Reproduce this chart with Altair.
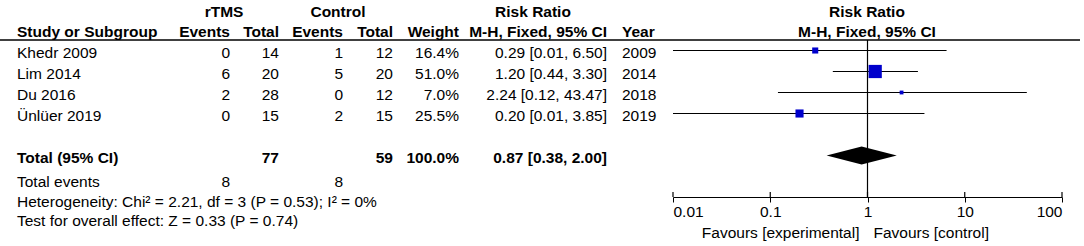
import altair as alt
import pandas as pd

# ---------------- data ----------------
studies = ["Khedr 2009", "Lim 2014", "Du 2016", "Ünlüer 2019"]
years = ["2009", "2014", "2018", "2019"]
rtms_events = [0, 6, 2, 0]
rtms_total = [14, 20, 28, 15]
ctrl_events = [1, 5, 0, 2]
ctrl_total = [12, 20, 12, 15]
weights = [16.4, 51.0, 7.0, 25.5]
rr = [0.29, 1.20, 2.24, 0.20]
ci_low = [0.01, 0.44, 0.12, 0.01]
ci_high = [6.50, 3.30, 43.47, 3.85]

total_label = "Total (95% CI)"
total_rtms = [77]
total_ctrl = [59]
total_weight = [100.0]
total_rr = [0.87]
total_low = [0.38]
total_high = [2.00]
events_label = "Total events"
events_rtms = [8]
events_ctrl = [8]
heterogeneity = "Heterogeneity: Chi² = 2.21, df = 3 (P = 0.53); I² = 0%"
overall = "Test for overall effect: Z = 0.33 (P = 0.74)"
axis_ticks = [0.01, 0.1, 1, 10, 100]
favours_left = "Favours [experimental]"
favours_right = "Favours [control]"

# ---------------- style / layout ----------------
FONT = "Liberation Sans"
FS = 15.5
TXT = "#000000"
BLUE = "#0000CC"
TOTAL_ROW = 5
DIAMOND_HALF = 9 / 21  # half-height of diamond in row units

df = pd.DataFrame({
    "study": studies, "year": years,
    "et": rtms_events, "tt": rtms_total, "ec": ctrl_events, "tc": ctrl_total,
    "w": weights, "rr": rr, "lo": ci_low, "hi": ci_high,
})
df["row"] = list(range(len(df)))
df["w_txt"] = [f"{w:.1f}%" for w in weights]
df["rr_txt"] = [f"{r:.2f} [{l:.2f}, {h:.2f}]" for r, l, h in zip(rr, ci_low, ci_high)]

df_tot = pd.DataFrame({
    "row": [TOTAL_ROW], "label": [total_label],
    "tt": total_rtms, "tc": total_ctrl,
    "w_txt": [f"{w:.1f}%" for w in total_weight],
    "rr_txt": [f"{r:.2f} [{l:.2f}, {h:.2f}]" for r, l, h in zip(total_rr, total_low, total_high)],
})

df_dia = pd.DataFrame({
    "x": [total_low[0], total_rr[0], total_high[0]],
    "ya": [TOTAL_ROW, TOTAL_ROW - DIAMOND_HALF, TOTAL_ROW],
    "yb": [TOTAL_ROW, TOTAL_ROW + DIAMOND_HALF, TOTAL_ROW],
})

df_ticks = pd.DataFrame({"t": axis_ticks})
df_one = pd.DataFrame({"v": [1]})

yscale = alt.Scale(domain=[0, TOTAL_ROW], range=[50.5, 155.5])
xscale = alt.Scale(type="log", domain=[0.01, 100], range=[673, 1062])
xaxis = alt.Axis(values=axis_ticks, format="~g", title=None, grid=False,
                 tickSize=5, tickColor="black", domainColor="black",
                 labelFlush=True, labelFont=FONT, labelFontSize=FS,
                 labelColor=TXT, labelPadding=2)


def col(data, field, x, align="right", bold=False):
    return alt.Chart(data).mark_text(
        align=align, baseline="middle", dy=2, font=FONT, fontSize=FS,
        fontWeight="bold" if bold else "normal", color=TXT,
    ).encode(
        x=alt.value(x),
        y=alt.Y("row:Q", scale=yscale, axis=None),
        text=alt.Text(f"{field}:N"),
    )


def const_text(txt, x, y, align="left", bold=False):
    return alt.Chart(pd.DataFrame({"t": [txt]})).mark_text(
        align=align, baseline="middle", font=FONT, fontSize=FS,
        fontWeight="bold" if bold else "normal", color=TXT,
    ).encode(x=alt.value(x), y=alt.value(y), text="t:N")


layers = []

# headers
layers += [
    const_text("rTMS", 224, 12, "center", True),
    const_text("Control", 338, 12, "center", True),
    const_text("Risk Ratio", 533, 12, "center", True),
    const_text("Risk Ratio", 867, 12, "center", True),
    const_text("Study or Subgroup", 17, 32, "left", True),
    const_text("Events", 230, 32, "right", True),
    const_text("Total", 279, 32, "right", True),
    const_text("Events", 343, 32, "right", True),
    const_text("Total", 393, 32, "right", True),
    const_text("Weight", 459, 32, "right", True),
    const_text("M-H, Fixed, 95% CI", 607, 32, "right", True),
    const_text("Year", 622, 32, "left", True),
    const_text("M-H, Fixed, 95% CI", 867, 32, "center", True),
]

# header rule
layers.append(
    alt.Chart(df_one).mark_rule(color="black", strokeWidth=1.5).encode(
        x=alt.value(0), x2=alt.value(1080), y=alt.value(40)
    )
)

# study rows
layers += [
    col(df, "study", 17, "left"),
    col(df, "et", 230),
    col(df, "tt", 279),
    col(df, "ec", 343),
    col(df, "tc", 393),
    col(df, "w_txt", 459),
    col(df, "rr_txt", 607),
    col(df, "year", 622, "left"),
]

# total row
layers += [
    col(df_tot, "label", 17, "left", True),
    col(df_tot, "tt", 279, "right", True),
    col(df_tot, "tc", 393, "right", True),
    col(df_tot, "w_txt", 459, "right", True),
    col(df_tot, "rr_txt", 607, "right", True),
]

# footer texts
layers += [
    const_text(events_label, 17, 182, "left"),
    const_text(str(events_rtms[0]), 230, 182, "right"),
    const_text(str(events_ctrl[0]), 343, 182, "right"),
    const_text(heterogeneity, 17, 202, "left"),
    const_text(overall, 17, 221, "left"),
]

# line of no effect
layers.append(
    alt.Chart(df_one).mark_rule(color="black", strokeWidth=1.2).encode(
        x=alt.X("v:Q", scale=xscale, axis=xaxis), y=alt.value(40), y2=alt.value(197)
    )
)

# inward tick halves
layers.append(
    alt.Chart(df_ticks).mark_rule(color="black", strokeWidth=1.2).encode(
        x=alt.X("t:Q", scale=xscale, axis=xaxis), y=alt.value(192), y2=alt.value(197)
    )
)

# CI lines
layers.append(
    alt.Chart(df).mark_rule(color="black", strokeWidth=1.2).encode(
        x=alt.X("lo:Q", scale=xscale, axis=xaxis), x2="hi:Q",
        y=alt.Y("row:Q", scale=yscale, axis=None),
    )
)

# squares
layers.append(
    alt.Chart(df).mark_square(color=BLUE, opacity=1, filled=True).encode(
        x=alt.X("rr:Q", scale=xscale, axis=xaxis),
        y=alt.Y("row:Q", scale=yscale, axis=None),
        size=alt.Size("w:Q", scale=alt.Scale(type="pow", exponent=1.5, domain=[0, 51], range=[6, 175]), legend=None),
    )
)

# diamond
layers.append(
    alt.Chart(df_dia).mark_area(color="black", orient="vertical", opacity=1).encode(
        x=alt.X("x:Q", scale=xscale, axis=xaxis),
        y=alt.Y("ya:Q", scale=yscale, axis=None),
        y2="yb:Q",
    )
)

# favours labels
df_fav = pd.DataFrame({"v": [1], "l": [favours_left], "r": [favours_right]})
layers.append(
    alt.Chart(df_fav).mark_text(align="right", baseline="middle", dx=-8, font=FONT, fontSize=FS, color=TXT).encode(
        x=alt.X("v:Q", scale=xscale, axis=xaxis), y=alt.value(233), text="l:N"
    )
)
layers.append(
    alt.Chart(df_fav).mark_text(align="left", baseline="middle", dx=6, font=FONT, fontSize=FS, color=TXT).encode(
        x=alt.X("v:Q", scale=xscale, axis=xaxis), y=alt.value(233), text="r:N"
    )
)

chart = alt.layer(*layers).properties(
    width=1084, height=197,
    padding={"left": 0, "top": 0, "right": 0, "bottom": 49},
    autosize=alt.AutoSizeParams(type="none"),
    background="white",
).configure_view(stroke=None)

chart.save("out.html", embed_options={"renderer": "svg", "actions": False})
